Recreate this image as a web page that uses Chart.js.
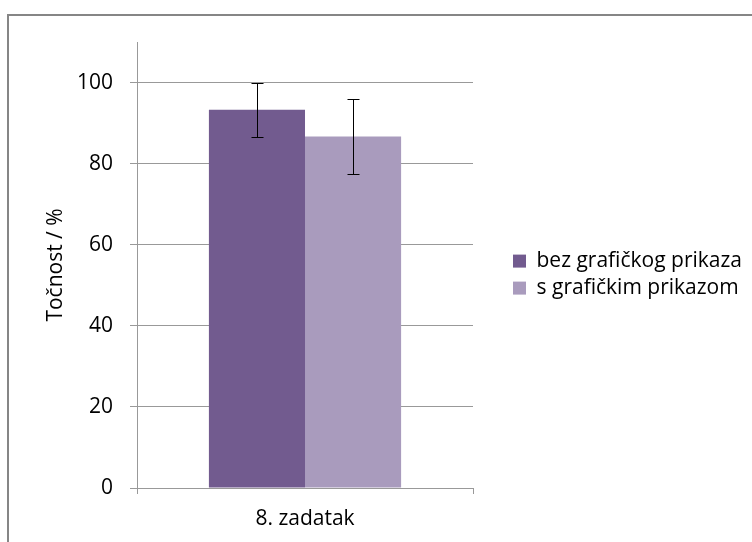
<!DOCTYPE html>
<html>
<head>
<meta charset="utf-8">
<script src="https://cdn.jsdelivr.net/npm/chart.js@4"></script>
<style>
  body { margin: 0; background: #fff; }
  canvas { display: block; }
</style>
</head>
<body>
<canvas id="myChart" width="752" height="542"></canvas>
<script>
const categories = ['8. zadatak'];
const seriesNames = ['bez grafičkog prikaza', 's grafičkim prikazom'];
const bezValues = [93.3];
const sValues = [86.7];
const bezErr = [6.7];
const sErr = [9.2];
const yTickValues = [0, 20, 40, 60, 80, 100];

const errors = [bezErr, sErr];
const fontFamily = '"Open Sans", sans-serif';
const gridColor = '#999';

// frame around the chart (right and bottom edges are cut off)
const framePlugin = {
  id: 'frame',
  beforeDraw(chart) {
    const ctx = chart.ctx;
    ctx.save();
    ctx.fillStyle = '#fff';
    ctx.fillRect(0, 0, chart.width, chart.height);
    ctx.strokeStyle = '#868686';
    ctx.lineWidth = 2;
    ctx.strokeRect(8, 15, chart.width + 20, chart.height + 20);
    ctx.restore();
  }
};

// error bars
const errorBarPlugin = {
  id: 'errorBars',
  afterDatasetsDraw(chart) {
    const ctx = chart.ctx;
    const yScale = chart.scales.y;
    ctx.save();
    ctx.strokeStyle = '#000';
    ctx.lineWidth = 1;
    chart.data.datasets.forEach((ds, i) => {
      const meta = chart.getDatasetMeta(i);
      meta.data.forEach((bar, j) => {
        const v = ds.data[j];
        const e = errors[i][j];
        const x = Math.round(bar.x) + 0.5;
        const yTop = Math.round(yScale.getPixelForValue(v + e)) + 0.5;
        const yBot = Math.round(yScale.getPixelForValue(v - e)) + 0.5;
        ctx.beginPath();
        ctx.moveTo(x, yTop); ctx.lineTo(x, yBot);
        ctx.moveTo(x - 6, yTop); ctx.lineTo(x + 6, yTop);
        ctx.moveTo(x - 6, yBot); ctx.lineTo(x + 6, yBot);
        ctx.stroke();
      });
    });
    ctx.restore();
  }
};

const data = {
  labels: categories,
  datasets: [{
    label: seriesNames[0],
    data: bezValues,
    backgroundColor: '#725b8f',
    borderWidth: 0
  },
  {
    label: seriesNames[1],
    data: sValues,
    backgroundColor: '#a99bbd',
    borderWidth: 0
  }]
};

const config = {
  type: 'bar',
  data,
  options: {
    responsive: false,
    animation: false,
    layout: { padding: { top: 42, left: 0, right: 0, bottom: 0 } },
    datasets: {
      bar: { categoryPercentage: 0.572, barPercentage: 1.0 }
    },
    scales: {
      x: {
        offset: true,
        grid: { display: true, drawOnChartArea: false, offset: true, tickLength: 6, color: gridColor },
        border: { color: gridColor },
        ticks: { color: '#000', padding: 12, font: { family: fontFamily, size: 21 } },
        afterFit(scale) { scale.height = 54; }
      },
      y: {
        min: 0,
        max: 110,
        ticks: { stepSize: 20, color: '#000', padding: 17, font: { family: fontFamily, size: 21 } },
        afterBuildTicks(scale) {
          scale.ticks = yTickValues.map(v => ({ value: v }));
        },
        grid: { color: gridColor, tickLength: 7 },
        border: { color: gridColor },
        title: {
          display: true,
          text: 'Točnost / %',
          color: '#000',
          font: { family: fontFamily, size: 21 },
          padding: { top: 43, bottom: 0 }
        },
        afterFit(scale) { scale.width = 137; }
      },
      spacer: {
        type: 'linear',
        position: 'right',
        display: true,
        ticks: { display: false },
        grid: { display: false },
        border: { display: false },
        afterFit(scale) { scale.width = 34; }
      }
    },
    plugins: {
      legend: {
        position: 'right',
        fullSize: false,
        maxWidth: 247,
        title: { display: true, text: '', font: { size: 1 }, padding: { top: 0, bottom: 18 } },
        labels: {
          boxWidth: 13,
          boxHeight: 13,
          padding: 6,
          color: '#000',
          font: { family: fontFamily, size: 21 }
        }
      },
      tooltip: { enabled: false }
    }
  },
  plugins: [framePlugin, errorBarPlugin]
};

const myChart = new Chart(
  document.getElementById('myChart'),
  config
);
</script>
</body>
</html>
